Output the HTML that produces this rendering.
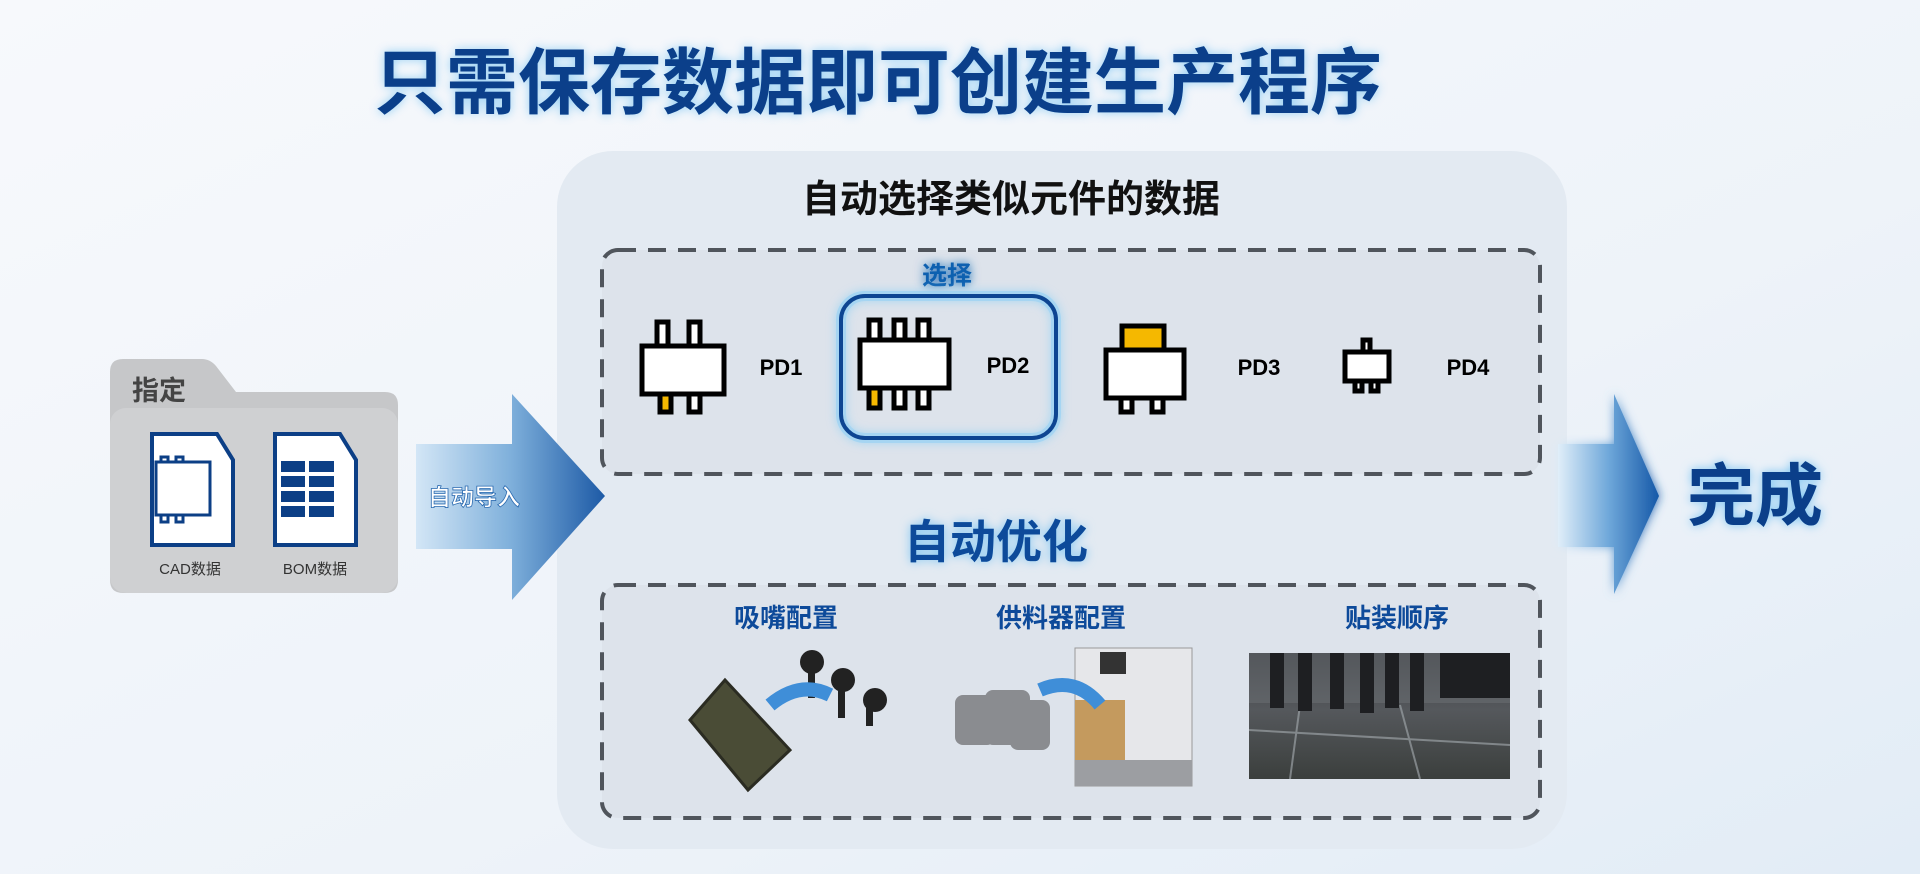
<!DOCTYPE html>
<html><head><meta charset="utf-8"><style>
html,body{margin:0;padding:0;width:1920px;height:874px;overflow:hidden;background:#f0f4f9}
svg{display:block}
text{font-family:"Liberation Sans","Noto Sans CJK SC",sans-serif}
</style></head><body>
<svg width="1920" height="874" viewBox="0 0 1920 874" xmlns="http://www.w3.org/2000/svg">
<defs>
<linearGradient id="bg" x1="0" y1="0" x2="1" y2="1"><stop offset="0" stop-color="#f7f9fc"/><stop offset="0.6" stop-color="#eef3f9"/><stop offset="1" stop-color="#e2ecf6"/></linearGradient>
<linearGradient id="ar" x1="0" y1="0" x2="1" y2="0"><stop offset="0" stop-color="#d3e6f6"/><stop offset="0.5" stop-color="#7fb0db"/><stop offset="1" stop-color="#1d5aa6"/></linearGradient>
<linearGradient id="ar2" x1="0" y1="0" x2="1" y2="0"><stop offset="0" stop-color="#e0eef9"/><stop offset="0.5" stop-color="#6fa8da"/><stop offset="1" stop-color="#1558a8"/></linearGradient>
<filter id="glow" x="-20%" y="-40%" width="140%" height="180%"><feGaussianBlur stdDeviation="5" result="b"/><feMerge><feMergeNode in="b"/><feMergeNode in="SourceGraphic"/></feMerge></filter>
<linearGradient id="pcb" x1="0" y1="0" x2="0" y2="1"><stop offset="0" stop-color="#3a3d42"/><stop offset="0.45" stop-color="#55585c"/><stop offset="1" stop-color="#3b3f3d"/></linearGradient>
</defs>
<rect width="1920" height="874" fill="url(#bg)"/>

<text x="878" y="108" text-anchor="middle" font-size="72" font-weight="bold" fill="#7cc4f2" opacity="0.8" filter="url(#glow)">只需保存数据即可创建生产程序</text>
<text x="878" y="108" text-anchor="middle" font-size="72" font-weight="bold" fill="#0b3f8a">只需保存数据即可创建生产程序</text>

<rect x="557" y="151" width="1010" height="698" rx="56" fill="#e3eaf2"/>
<text x="1011" y="212" text-anchor="middle" font-size="38" font-weight="bold" fill="#111">自动选择类似元件的数据</text>

<rect x="602" y="250" width="938" height="224" rx="16" fill="#dde3eb" stroke="#50555c" stroke-width="4" stroke-dasharray="18 12"/>
<text x="947" y="284" text-anchor="middle" font-size="25" font-weight="bold" fill="#1060b0" filter="url(#glow)">选择</text>
<rect x="841" y="296" width="215" height="142" rx="24" fill="none" stroke="#8fd0f5" stroke-width="10" opacity="0.7" filter="url(#glow)"/>
<rect x="841" y="296" width="215" height="142" rx="24" fill="none" stroke="#0d4592" stroke-width="4"/>

<g stroke="#000" stroke-width="5" fill="#fff">
<rect x="657" y="322" width="11" height="26"/><rect x="689" y="322" width="11" height="26"/>
<rect x="660" y="392" width="11" height="20" fill="#f5b800"/><rect x="689" y="392" width="11" height="20"/>
<rect x="642" y="346" width="82" height="48"/>
<rect x="869" y="320" width="11" height="24"/><rect x="894" y="320" width="11" height="24"/><rect x="918" y="320" width="11" height="24"/>
<rect x="869" y="386" width="11" height="22" fill="#f5b800"/><rect x="894" y="386" width="11" height="22"/><rect x="918" y="386" width="11" height="22"/>
<rect x="860" y="340" width="89" height="48"/>
<rect x="1122" y="326" width="42" height="26" fill="#f5b800"/>
<rect x="1121" y="396" width="11" height="16"/><rect x="1152" y="396" width="11" height="16"/>
<rect x="1106" y="350" width="78" height="48"/>
<rect x="1363" y="340" width="7" height="14"/>
<rect x="1355" y="380" width="7" height="11"/><rect x="1371" y="380" width="7" height="11"/>
<rect x="1345" y="352" width="44" height="29"/>
</g>
<g font-size="22" font-weight="bold" fill="#000">
<text x="781" y="375" text-anchor="middle">PD1</text>
<text x="1008" y="373" text-anchor="middle">PD2</text>
<text x="1259" y="375" text-anchor="middle">PD3</text>
<text x="1468" y="375" text-anchor="middle">PD4</text>
</g>

<text x="996" y="558" text-anchor="middle" font-size="46" font-weight="bold" fill="#7cc4f2" filter="url(#glow)">自动优化</text>
<text x="996" y="558" text-anchor="middle" font-size="46" font-weight="bold" fill="#0d4a9a">自动优化</text>

<rect x="602" y="585" width="938" height="233" rx="16" fill="#dde3eb" stroke="#50555c" stroke-width="4" stroke-dasharray="18 12"/>
<g font-size="26" font-weight="bold" fill="#0d4a9a">
<text x="786" y="627" text-anchor="middle">吸嘴配置</text>
<text x="1061" y="627" text-anchor="middle">供料器配置</text>
<text x="1397" y="627" text-anchor="middle">贴装顺序</text>
</g>

<polygon points="690,720 725,680 790,750 748,790" fill="#4a4c36" stroke="#2b2c22" stroke-width="3"/>
<g fill="#222"><circle cx="812" cy="662" r="12"/><rect x="808" y="670" width="7" height="28"/>
<circle cx="843" cy="680" r="12"/><rect x="838" y="688" width="7" height="30"/>
<circle cx="875" cy="700" r="12"/><rect x="866" y="706" width="7" height="20"/></g>
<path d="M770 705 Q 800 680 830 695" fill="none" stroke="#3f8ed8" stroke-width="14"/>
<rect x="1075" y="648" width="117" height="138" fill="#e6e7ea" stroke="#999" stroke-width="1"/>
<rect x="1100" y="652" width="26" height="22" fill="#333"/>
<rect x="1075" y="700" width="50" height="70" fill="#c49a5e"/>
<rect x="1075" y="760" width="117" height="26" fill="#9c9ea2"/>
<g fill="#8a8c90"><rect x="955" y="695" width="40" height="50" rx="8"/><rect x="985" y="690" width="45" height="55" rx="8"/><rect x="1010" y="700" width="40" height="50" rx="8"/></g>
<path d="M1040 690 Q 1075 675 1100 705" fill="none" stroke="#3f8ed8" stroke-width="14"/>
<rect x="1249" y="653" width="261" height="126" fill="url(#pcb)"/>
<rect x="1249" y="653" width="261" height="50" fill="#6e7276" opacity="0.5"/>
<g stroke="#9aa0a4" stroke-width="2" opacity="0.7"><line x1="1249" y1="730" x2="1510" y2="745"/><line x1="1300" y1="705" x2="1290" y2="779"/><line x1="1400" y1="705" x2="1420" y2="779"/></g>
<g fill="#1e1f22"><rect x="1270" y="653" width="14" height="55"/><rect x="1298" y="653" width="14" height="58"/><rect x="1330" y="653" width="14" height="56"/><rect x="1360" y="653" width="14" height="60"/><rect x="1385" y="653" width="14" height="55"/><rect x="1410" y="653" width="14" height="58"/><rect x="1440" y="653" width="70" height="45"/></g>

<path d="M110 372 Q110 359 123 359 L202 359 Q210 359 216 366 L236 392 L385 392 Q398 392 398 405 L398 580 Q398 593 385 593 L123 593 Q110 593 110 580 Z" fill="#c6c7c9"/>
<rect x="110" y="408" width="288" height="185" rx="16" fill="#cfd0d2"/>
<text x="159" y="400" text-anchor="middle" font-size="27" font-weight="bold" fill="#444">指定</text>
<path d="M152 434 L217 434 L233 460 L233 545 L152 545 Z" fill="#fff" stroke="#0c3f86" stroke-width="4"/>
<g fill="none" stroke="#0c3f86" stroke-width="3"><rect x="156" y="462" width="54" height="53" fill="#fff"/><rect x="161" y="457" width="7" height="5"/><rect x="176" y="457" width="7" height="5"/><rect x="161" y="515" width="7" height="7"/><rect x="176" y="515" width="7" height="7"/></g>
<path d="M275 434 L340 434 L356 460 L356 545 L275 545 Z" fill="#fff" stroke="#0c3f86" stroke-width="4"/>
<g fill="#0c3f86"><rect x="281" y="461" width="24" height="11"/><rect x="309" y="461" width="25" height="11"/><rect x="281" y="476" width="24" height="11"/><rect x="309" y="476" width="25" height="11"/><rect x="281" y="491" width="24" height="11"/><rect x="309" y="491" width="25" height="11"/><rect x="281" y="506" width="24" height="11"/><rect x="309" y="506" width="25" height="11"/></g>
<text x="190" y="574" text-anchor="middle" font-size="15" fill="#333">CAD数据</text>
<text x="315" y="574" text-anchor="middle" font-size="15" fill="#333">BOM数据</text>

<polygon points="416,444 512,444 512,394 605,496 512,600 512,549 416,549" fill="url(#ar)"/>
<text x="474" y="505" text-anchor="middle" font-size="23" font-weight="bold" fill="#fff" stroke="#2a6ab0" stroke-width="0.8">自动导入</text>

<polygon points="1558,444 1614,444 1614,394 1659,496 1614,594 1614,547 1558,547" fill="url(#ar2)" filter="url(#glow)"/>
<text x="1755" y="520" text-anchor="middle" font-size="68" font-weight="bold" fill="#7cc4f2" filter="url(#glow)">完成</text>
<text x="1755" y="520" text-anchor="middle" font-size="68" font-weight="bold" fill="#0b3f8a">完成</text>
</svg>
</body></html>
